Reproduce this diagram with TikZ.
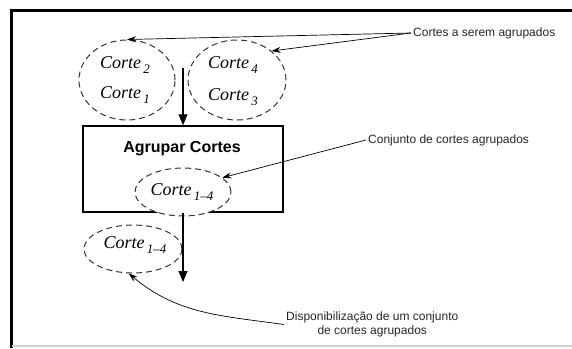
\documentclass[tikz,border=0pt]{standalone}
\usepackage{fontspec}
\setmainfont{Liberation Sans}
\newfontfamily\crtfont{Liberation Serif}
\usetikzlibrary{shapes.geometric,arrows.meta}
\newcommand{\crt}[1]{{\crtfont\itshape\fontsize{18}{20}\selectfont Corte\raisebox{-.55ex}{\fontsize{13}{13}\selectfont\,#1}}}

\begin{document}
\begin{tikzpicture}[x=1pt,y=1pt,
  elp/.style={draw=black!80,ellipse,line width=1pt,dash pattern=on 6pt off 4pt,inner sep=0pt},
  flow/.style={line width=1.2pt,-{Triangle[length=11pt,width=9pt]}},
  lead/.style={line width=0.7pt,-{Stealth[length=9pt,width=6pt]}},
  lbl/.style={font=\fontsize{12}{13.5}\selectfont,text=black!85,inner sep=2pt}]
  \useasboundingbox (0,0) rectangle (572,-348);
  % frame
  \draw[line width=2.5pt] (11.5,-348) -- (11.5,-10.5) -- (572,-10.5);
  \draw[gray!35,line width=1.2pt] (11.5,-346) -- (572,-346);
  % cuts to be grouped
  \node[elp,minimum width=96,minimum height=80] (e12) at (127,-80) {};
  \node[elp,minimum width=98,minimum height=80] (e34) at (237,-80) {};
  \node (c2) at (125,-65) {\crt{2}};
  \node (c1) at (125,-95) {\crt{1}};
  \node (c4) at (233,-65) {\crt{4}};
  \node (c3) at (233,-97) {\crt{3}};
  % grouping step
  \node[draw,line width=1.5pt,minimum width=200,minimum height=86] (agr) at (183,-169) {};
  \node[font=\bfseries\fontsize{16}{18}\selectfont] (tit) at (182,-149) {Agrupar Cortes};
  \node[elp,fill=white,minimum width=96,minimum height=48] (e14) at (183,-192) {};
  \node (c14) at (182,-192) {\crt{1\textendash4}};
  % output
  \node[elp,minimum width=98,minimum height=48] (out) at (133,-249) {};
  \node (c14b) at (135,-245) {\crt{1\textendash4}};
  \coordinate (a0) at (183,-68);
  \coordinate (a1) at (183,-282);
  \draw[flow] (a0) -- (agr.north);
  \draw[flow] (agr.south) -- (a1);
  % labels
  \node[lbl,anchor=west] (l1) at (411,-33) {Cortes a serem agrupados};
  \node[lbl,anchor=west] (l2) at (366,-140) {Conjunto de cortes agrupados};
  \node[lbl,align=center,anchor=west] (l3) at (284,-324.5) {Disponibiliza\c{c}\~ao de um conjunto\\de cortes agrupados};
  \draw[lead] (l1.west) -- (e12.north);
  \draw[lead] (l1.west) -- (e34.40);
  \draw[lead] (l2.west) -- (e14.20);
  \draw[lead] (l3.west) to[out=172,in=-40] (out.-100);
\end{tikzpicture}
\end{document}
